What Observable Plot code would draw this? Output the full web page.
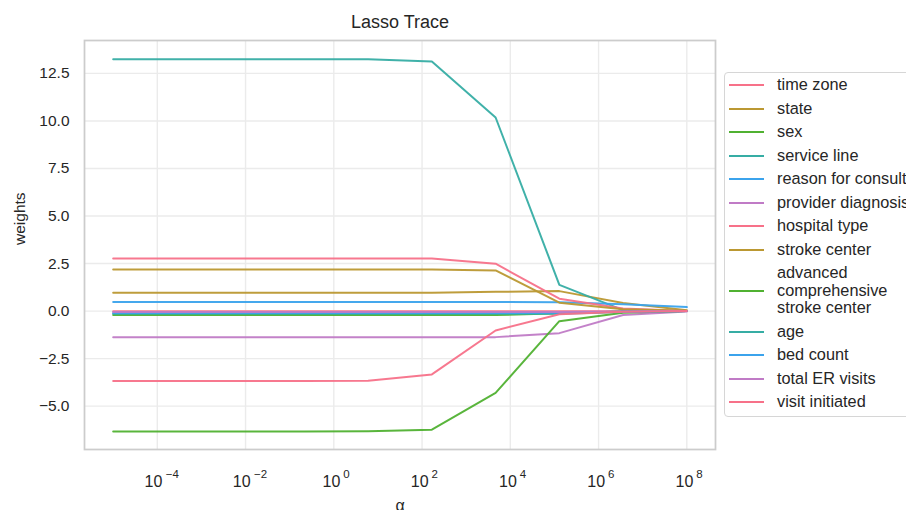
<!DOCTYPE html>
<html>
<head>
<meta charset="utf-8">
<script src="https://cdn.jsdelivr.net/npm/d3@7"></script>
<script src="https://cdn.jsdelivr.net/npm/@observablehq/plot@0.6"></script>
<style>
  html, body { margin: 0; padding: 0; background: #fff; }
  #wrap { position: relative; width: 906px; height: 510px; overflow: hidden; font-family: "Liberation Sans", Arial, sans-serif; color: #262626; }
  #legend { position: absolute; left: 724px; top: 72px; width: 220px; height: 345px; border: 1px solid #d6d6d6; border-radius: 4px; background: #fff; box-sizing: border-box; }
  .lg-line { position: absolute; left: 729px; width: 35px; height: 2px; }
  .lg-text { position: absolute; left: 777px; font-size: 16.3px; line-height: 17.5px; white-space: nowrap; color: #262626; }
</style>
</head>
<body>
<div id="wrap"></div>
<script>
// ---- data ----
const alphas = [1e-5, 2.783e-4, 7.743e-3, 0.2154, 5.995, 166.8, 4642, 1.292e5, 3.594e6, 1e8];
const features = ["time zone", "state", "sex", "service line", "reason for consult", "provider diagnosis",
  "hospital type", "stroke center", "advanced\ncomprehensive\nstroke center", "age", "bed count",
  "total ER visits", "visit initiated"];
const palette = ["#f77189", "#bb9832", "#50b131", "#36ada4", "#3ba3ec", "#c07bc6"];
const wTimeZone      = [-0.01, -0.01, -0.01, -0.01, -0.01, -0.01, -0.01, -0.01, -0.01, 0.0];
const wState         = [0.96, 0.96, 0.96, 0.96, 0.96, 0.97, 1.01, 1.05, 0.42, 0.04];
const wSex           = [-0.21, -0.21, -0.21, -0.21, -0.21, -0.21, -0.21, -0.12, -0.02, 0.0];
const wServiceLine   = [13.25, 13.25, 13.25, 13.25, 13.24, 13.12, 10.18, 1.38, 0.05, 0.0];
const wReason        = [0.48, 0.48, 0.48, 0.48, 0.48, 0.48, 0.48, 0.47, 0.36, 0.21];
const wProvider      = [-1.38, -1.38, -1.38, -1.38, -1.38, -1.38, -1.37, -1.16, -0.21, -0.02];
const wHospitalType  = [2.77, 2.77, 2.77, 2.77, 2.77, 2.76, 2.49, 0.65, 0.14, 0.0];
const wStrokeCenter  = [2.19, 2.19, 2.19, 2.19, 2.19, 2.18, 2.14, 0.44, 0.10, 0.02];
const wAdvanced      = [-6.33, -6.33, -6.33, -6.33, -6.32, -6.24, -4.30, -0.53, -0.09, 0.0];
const wAge           = [-0.14, -0.14, -0.14, -0.14, -0.14, -0.14, -0.14, -0.14, -0.05, 0.0];
const wBedCount      = [-0.10, -0.10, -0.10, -0.10, -0.10, -0.10, -0.10, -0.09, -0.03, 0.0];
const wTotalER       = [-0.05, -0.05, -0.05, -0.05, -0.05, -0.05, -0.05, -0.05, -0.02, 0.0];
const wVisitInit     = [-3.68, -3.68, -3.68, -3.68, -3.67, -3.33, -1.02, -0.17, -0.04, 0.0];
const series = [wTimeZone, wState, wSex, wServiceLine, wReason, wProvider, wHospitalType,
  wStrokeCenter, wAdvanced, wAge, wBedCount, wTotalER, wVisitInit];
const xTicks = [1e-4, 1e-2, 1, 1e2, 1e4, 1e6, 1e8];
const xTickExp = ["\u22124", "\u22122", "0", "2", "4", "6", "8"];
const yTicks = [-5, -2.5, 0, 2.5, 5, 7.5, 10, 12.5];
const title = "Lasso Trace";
const xLabel = "\u03b1";
const yLabel = "weights";

// ---- table ----
const rows = [];
features.forEach((f, i) => series[i].forEach((w, j) => rows.push({feature: f, alpha: alphas[j], w})));
const colors = features.map((f, i) => palette[i % palette.length]);
const tickRows = xTicks.map((t, i) => ({t, e: xTickExp[i], neg: xTickExp[i].startsWith("\u2212")}));
const negTicks = tickRows.filter(d => d.neg);
const posTicks = tickRows.filter(d => !d.neg);

const font = '"Liberation Sans", Arial, sans-serif';
const ink = "#262626";
const chart = Plot.plot({
  width: 906, height: 510,
  marginLeft: 84, marginRight: 191, marginTop: 40, marginBottom: 61,
  style: {fontFamily: font, color: ink, background: "transparent"},
  x: {type: "log", domain: [Math.pow(10, -5.65), Math.pow(10, 8.65)]},
  y: {domain: [-7.28, 14.23]},
  color: {domain: features, range: colors},
  marks: [
    Plot.ruleY(yTicks, {stroke: "#ebebeb", strokeWidth: 1.4}),
    Plot.ruleX(xTicks, {stroke: "#ebebeb", strokeWidth: 1.4}),
    Plot.line(rows, {x: "alpha", y: "w", z: "feature", stroke: "feature", strokeWidth: 2, strokeOpacity: 0.95}),
    Plot.frame({stroke: "#cccccc", strokeWidth: 1.75}),
    Plot.axisY(yTicks, {tickSize: 0, tickPadding: 15, fontSize: 15.5, tickFormat: d3.format(".1f"), label: null}),
    Plot.axisX([], {label: null, tickSize: 0}),
    // x tick labels: "10" + superscript exponent
    Plot.text(negTicks, {x: "t", frameAnchor: "bottom", lineAnchor: "middle", text: () => "10", textAnchor: "end", dx: 5, dy: 32, fontSize: 16, fill: ink}),
    Plot.text(negTicks, {x: "t", frameAnchor: "bottom", lineAnchor: "middle", text: "e", textAnchor: "start", dx: 8.5, dy: 25, fontSize: 11.5, fill: ink}),
    Plot.text(posTicks, {x: "t", frameAnchor: "bottom", lineAnchor: "middle", text: () => "10", textAnchor: "end", dx: 6.5, dy: 32, fontSize: 16, fill: ink}),
    Plot.text(posTicks, {x: "t", frameAnchor: "bottom", lineAnchor: "middle", text: "e", textAnchor: "start", dx: 9.5, dy: 25, fontSize: 11.5, fill: ink}),
    Plot.text([title], {frameAnchor: "top", lineAnchor: "middle", dy: -18.5, fontSize: 18, fill: ink}),
    Plot.text([xLabel], {frameAnchor: "bottom", lineAnchor: "middle", dy: 56, fontSize: 16, fill: ink}),
    Plot.text([yLabel], {frameAnchor: "left", lineAnchor: "middle", dx: -64, rotate: -90, fontSize: 15.5, fill: ink})
  ]
});
const wrap = document.getElementById("wrap");
wrap.appendChild(chart);

// ---- legend ----
const lg = document.createElement("div");
lg.id = "legend";
wrap.appendChild(lg);
let yc = 85;
features.forEach((f, i) => {
  const lines = f.split("\n");
  const h = lines.length * 17.5;
  if (i > 0) yc += 23.5 + 8.75 * (lines.length - 1);
  const ln = document.createElement("div");
  ln.className = "lg-line";
  ln.style.top = (yc - 1) + "px";
  ln.style.background = colors[i];
  wrap.appendChild(ln);
  const tx = document.createElement("div");
  tx.className = "lg-text";
  tx.style.top = (yc - h / 2) + "px";
  tx.innerHTML = lines.join("<br>");
  wrap.appendChild(tx);
  yc += 8.75 * (lines.length - 1);
});
</script>
</body>
</html>
